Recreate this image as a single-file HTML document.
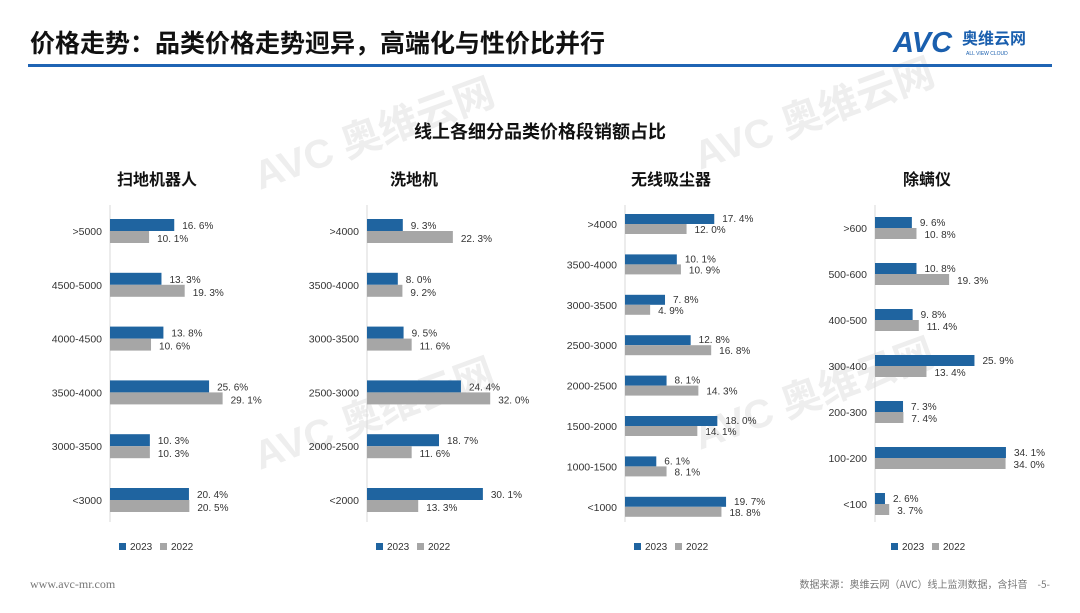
<!DOCTYPE html>
<html><head><meta charset="utf-8"><style>
body{margin:0;width:1080px;height:608px;background:#fff;overflow:hidden;font-family:"Liberation Sans","Noto Sans CJK SC",sans-serif}
</style></head><body>
<svg width="1080" height="608" xmlns="http://www.w3.org/2000/svg" font-family="Liberation Sans, Noto Sans CJK SC, sans-serif">
<g fill="#eeeeee" font-weight="bold" font-size="40" font-family="Liberation Sans, Noto Sans CJK SC, sans-serif">
<text x="260" y="190" transform="rotate(-20 260 190)">AVC 奥维云网</text>
<text x="700" y="170" transform="rotate(-20 700 170)">AVC 奥维云网</text>
<text x="260" y="470" transform="rotate(-20 260 470)">AVC 奥维云网</text>
<text x="700" y="450" transform="rotate(-20 700 450)">AVC 奥维云网</text>
</g>
<text x="30" y="52" font-size="25" fill="#111" font-weight="bold" font-family="Noto Sans CJK SC, sans-serif">价格走势：品类价格走势迥异，高端化与性价比并行</text>
<text x="893" y="52" font-size="29" font-weight="bold" fill="#1a5fae" font-style="italic">AVC</text>
<text x="962" y="44" font-size="16" font-weight="bold" fill="#1a5fae" font-family="Noto Sans CJK SC, sans-serif">奥维云网</text>
<text x="966" y="55" font-size="5" fill="#1a5fae">ALL VIEW CLOUD</text>
<rect x="28" y="64" width="1024" height="3" fill="#1f64b4"/>
<text x="540" y="138" font-size="18" font-weight="bold" text-anchor="middle" fill="#111" font-family="Noto Sans CJK SC, sans-serif">线上各细分品类价格段销额占比</text>
<g font-size="16" font-weight="bold" text-anchor="middle" fill="#111" font-family="Noto Sans CJK SC, sans-serif">
<text x="157" y="185">扫地机器人</text><text x="414" y="185">洗地机</text><text x="671" y="185">无线吸尘器</text><text x="927" y="185">除螨仪</text></g>
<g id="charts" font-size="10" fill="#333"></g>
<g font-size="10" fill="#333">
<rect x="119" y="543" width="7" height="7" fill="#1f64a0"/><text x="130" y="550">2023</text><rect x="160" y="543" width="7" height="7" fill="#a6a6a6"/><text x="171" y="550">2022</text>
<rect x="376" y="543" width="7" height="7" fill="#1f64a0"/><text x="387" y="550">2023</text><rect x="417" y="543" width="7" height="7" fill="#a6a6a6"/><text x="428" y="550">2022</text>
<rect x="634" y="543" width="7" height="7" fill="#1f64a0"/><text x="645" y="550">2023</text><rect x="675" y="543" width="7" height="7" fill="#a6a6a6"/><text x="686" y="550">2022</text>
<rect x="891" y="543" width="7" height="7" fill="#1f64a0"/><text x="902" y="550">2023</text><rect x="932" y="543" width="7" height="7" fill="#a6a6a6"/><text x="943" y="550">2022</text>
</g>
<text x="30" y="588" font-size="12" fill="#777" font-family="Liberation Serif, serif">www.avc-mr.com</text>
<text x="1050" y="588" font-size="10" fill="#777" text-anchor="end" font-family="Noto Sans CJK SC, sans-serif">数据来源：奥维云网（AVC）线上监测数据，含抖音　-5-</text>
</svg>
<script>
const C=[
{x:110,s:3.87,y0:231,d:53.8,h:12,labs:[">5000","4500-5000","4000-4500","3500-4000","3000-3500","<3000"],a:[16.6,13.3,13.8,25.6,10.3,20.4],b:[10.1,19.3,10.6,29.1,10.3,20.5]},
{x:367,s:3.85,y0:231,d:53.8,h:12,labs:[">4000","3500-4000","3000-3500","2500-3000","2000-2500","<2000"],a:[9.3,8.0,9.5,24.4,18.7,30.1],b:[22.3,9.2,11.6,32.0,11.6,13.3]},
{x:625,s:5.13,y0:224,d:40.4,h:10,labs:[">4000","3500-4000","3000-3500","2500-3000","2000-2500","1500-2000","1000-1500","<1000"],a:[17.4,10.1,7.8,12.8,8.1,18.0,6.1,19.7],b:[12.0,10.9,4.9,16.8,14.3,14.1,8.1,18.8]},
{x:875,s:3.84,y0:228,d:46,h:11,labs:[">600","500-600","400-500","300-400","200-300","100-200","<100"],a:[9.6,10.8,9.8,25.9,7.3,34.1,2.6],b:[10.8,19.3,11.4,13.4,7.4,34.0,3.7]}];
let s="";const f=v=>v.toFixed(1).replace(".",". ")+"%";
for(const c of C){s+=`<line x1="${c.x}" y1="205" x2="${c.x}" y2="522" stroke="#d9d9d9"/>`;
c.labs.forEach((l,i)=>{const y=c.y0+i*c.d;const l2=l.replace("<","&lt;").replace(">","&gt;");
s+=`<text x="${c.x-8}" y="${y+4}" text-anchor="end" font-size="10.5">${l2}</text>`;
const wa=c.a[i]*c.s,wb=c.b[i]*c.s;
s+=`<rect x="${c.x}" y="${y-c.h}" width="${wa}" height="${c.h}" fill="#1f64a0"/><rect x="${c.x}" y="${y}" width="${wb}" height="${c.h}" fill="#a6a6a6"/>`;
s+=`<text x="${c.x+wa+8}" y="${y-2}">${f(c.a[i])}</text><text x="${c.x+wb+8}" y="${y+c.h-1}">${f(c.b[i])}</text>`;});}
document.getElementById("charts").innerHTML=s;
</script>
</body></html>
